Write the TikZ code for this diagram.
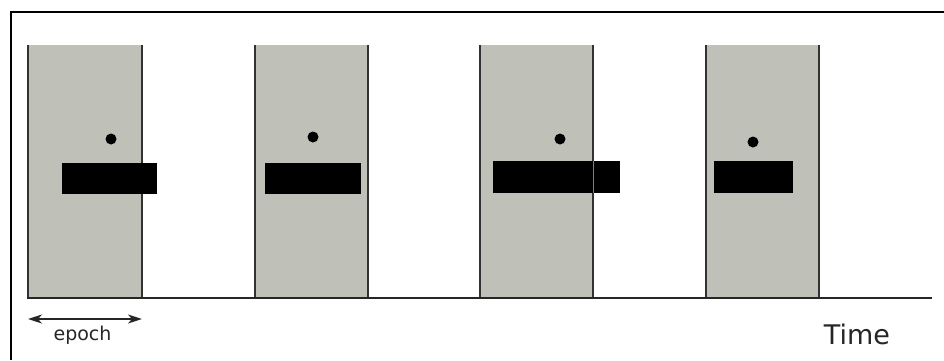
\documentclass[tikz,border=0pt]{standalone}
\usepackage{fontspec}
\setmainfont{DejaVu Sans}
\usetikzlibrary{arrows.meta}
\definecolor{epochgray}{RGB}{191,192,184}
\definecolor{edgegray}{RGB}{50,50,50}
\tikzset{
  epochbox/.style={fill=epochgray, draw=none},
  sideline/.style={draw=edgegray, line width=1.6pt},
  bar/.style={fill=black, draw=none},
  dotmark/.style={circle, fill=black, inner sep=0pt, minimum size=11pt},
  frameline/.style={line width=2pt, black},
  axisline/.style={line width=2pt, black!85},
}
\begin{document}
\begin{tikzpicture}[x=1pt,y=-1pt]
\useasboundingbox (0,0) rectangle (944,360);
% frame (top and left)
\draw[frameline] (944,12) -- (11,12) -- (11,360);
% epochs
\foreach \xl/\xr/\n in {28/142/1, 255/368/2, 480/593/3, 706/819/4}{
  \fill[epochbox] (\xl,45) rectangle (\xr,298);
  \draw[sideline] (\xl,45) -- (\xl,298);
  \draw[sideline] (\xr,45) -- (\xr,298);
}
% bars
\fill[bar] (62,163) rectangle (157,194);
\fill[bar] (265,163) rectangle (361,194);
\fill[bar] (493,161) rectangle (620,193);
\draw[draw=gray, line width=1pt] (593,161) -- (593,193);
\fill[bar] (714,161) rectangle (793,193);
% dots
\node[dotmark] (d1) at (111,139) {};
\node[dotmark] (d2) at (313,137) {};
\node[dotmark] (d3) at (560,139) {};
\node[dotmark] (d4) at (753,142) {};
% time axis
\coordinate (a0) at (27,298);
\coordinate (a1) at (932,298);
\draw[axisline] (a0) -- (a1);
% epoch arrow
\coordinate (e0) at (28,319);
\coordinate (e1) at (142,319);
\draw[line width=1.4pt, black!85, {Stealth[length=14pt,width=9pt,inset=4pt]}-{Stealth[length=14pt,width=9pt,inset=4pt]}] (e0) -- (e1);
\node[anchor=base, font=\fontsize{19}{22}\selectfont, text=black!85, inner sep=0pt] (epoch) at (82.5,340) {epoch};
\node[anchor=base, font=\fontsize{27}{30}\selectfont, text=black!85, inner sep=0pt] (time) at (857,344) {Time};
\end{tikzpicture}
\end{document}
